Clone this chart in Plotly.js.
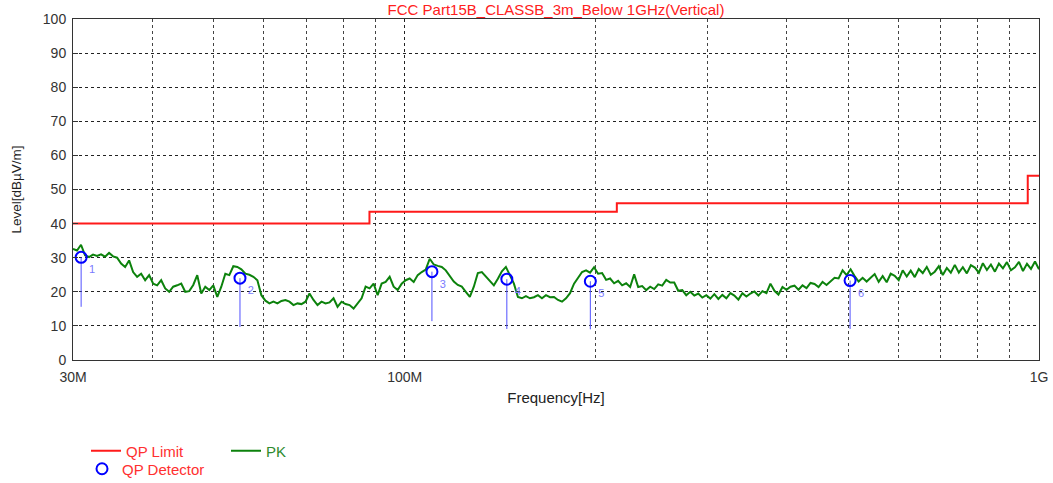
<!DOCTYPE html>
<html>
<head>
<meta charset="utf-8">
<script src="https://cdn.plot.ly/plotly-3.0.1.min.js"></script>
<style>
  html, body { margin: 0; padding: 0; background: #ffffff; }
  #chart { width: 1053px; height: 483px; }
</style>
</head>
<body>
<div id="chart"></div>
<script>
// QP limit line (FCC Part 15B class B, 3 m), frequencies in MHz
const limitFreq = [30, 88, 216, 960, 1000];
const limitLevel = [40, 43.5, 46, 54, 54];

// Peak sweep, 30 MHz .. 1 GHz, levels in dBuV/m
const pkStartMHz = 30;
const pkStopMHz = 1000;
const pkLevel = [
  32.6, 32.1, 33.8, 30.7, 30.2, 30.9, 30.5, 31.0, 30.3, 31.4,
  30.4, 30.0, 28.3, 27.3, 29.2, 25.8, 24.4, 25.3, 23.4, 24.9,
  22.4, 21.9, 23.4, 21.0, 20.0, 21.5, 21.9, 22.4, 20.0, 20.2,
  22.0, 24.9, 19.5, 21.5, 20.5, 21.9, 18.5, 21.5, 25.3, 24.9,
  27.5, 27.3, 26.6, 25.3, 25.0, 24.4, 23.4, 19.0, 17.4, 16.6,
  17.1, 16.6, 17.3, 17.6, 17.1, 16.1, 16.6, 16.4, 17.1, 19.5,
  17.6, 16.1, 17.1, 16.6, 16.9, 18.1, 15.6, 17.1, 16.4, 16.1,
  15.1, 16.6, 18.1, 21.5, 21.0, 22.4, 19.0, 22.4, 22.9, 24.4,
  21.5, 20.5, 22.4, 23.4, 23.9, 22.9, 24.9, 25.8, 26.5, 29.7,
  28.0, 27.6, 27.3, 26.3, 24.6, 23.0, 22.0, 21.5, 20.0, 18.5,
  21.5, 25.5, 25.8, 24.5, 23.4, 21.9, 23.8, 26.0, 27.3, 25.0,
  22.4, 18.5, 18.1, 18.7, 18.1, 18.4, 19.0, 18.1, 19.0, 18.4,
  18.5, 17.6, 17.1, 18.1, 19.6, 22.4, 24.0, 25.8, 26.3, 25.6,
  27.2, 25.3, 25.5, 23.5, 23.9, 22.5, 23.2, 21.9, 22.5, 21.4,
  25.1, 21.4, 21.7, 20.5, 21.5, 20.8, 22.2, 21.8, 23.5, 22.7,
  22.7, 20.3, 20.5, 19.0, 20.0, 18.9, 19.5, 18.3, 19.0, 18.0,
  19.3, 17.9, 19.1, 18.1, 19.6, 18.9, 17.7, 19.6, 18.6, 19.5,
  20.1, 18.9, 20.2, 19.6, 22.4, 20.3, 19.2, 21.4, 20.6, 21.5,
  21.8, 20.6, 21.9, 21.1, 22.6, 22.3, 21.4, 22.9, 22.0, 23.2,
  24.1, 23.9, 26.3, 24.9, 26.6, 24.6, 23.0, 24.1, 23.0, 24.1,
  25.2, 22.9, 24.6, 22.8, 25.3, 24.7, 23.4, 26.3, 24.5, 26.2,
  24.3, 26.7, 25.5, 27.3, 25.0, 25.9, 27.5, 24.9, 27.0, 25.6,
  27.9, 25.6, 27.2, 25.4, 27.8, 27.1, 25.6, 28.4, 26.4, 28.0,
  25.9, 28.3, 26.9, 28.7, 26.3, 27.2, 28.8, 26.1, 28.2, 26.7,
  28.9, 26.6
];

// Quasi-peak detector readings
const qpFreq = [30.9, 55.0, 110.4, 144.9, 196.2, 503.7];
const qpLevel = [30.1, 24.0, 25.9, 23.7, 23.1, 23.3];
const qpStemLow = [15.6, 9.7, 11.4, 9.1, 9.0, 9.1];
const qpLabel = ['1', '2', '3', '4', '5', '6'];

// Axis ticks
const xTickVals = [30, 100, 1000];
const xTickText = ['30M', '100M', '1G'];
const xMinorVals = [40, 50, 60, 70, 80, 90, 200, 300, 400, 500, 600, 700, 800, 900];
const yTickVals = [0, 10, 20, 30, 40, 50, 60, 70, 80, 90, 100];

// sweep frequency grid of the receiver (log-spaced points)
const pkFreq = pkLevel.map((_, i) =>
  pkStartMHz * Math.pow(pkStopMHz / pkStartMHz, i / (pkLevel.length - 1)));

const stemX = [], stemY = [];
qpFreq.forEach((f, i) => {
  stemX.push(f, f, null);
  stemY.push(qpLevel[i], qpStemLow[i], null);
});

const FONT = 'Liberation Sans, Arial, sans-serif';

const traces = [
  {
    x: limitFreq, y: limitLevel, type: 'scatter', mode: 'lines',
    line: { color: '#ff1a1a', width: 2, shape: 'hv' },
    name: '<span style="color:#ff3030">QP Limit</span>', legend: 'legend'
  },
  {
    x: pkFreq, y: pkLevel, type: 'scatter', mode: 'lines',
    line: { color: '#0c820c', width: 2 },
    name: '<span style="color:#2e8b2e">PK</span>', legend: 'legend'
  },
  {
    x: stemX, y: stemY, type: 'scatter', mode: 'lines',
    line: { color: '#5050ff', width: 1 },
    showlegend: false, hoverinfo: 'skip'
  },
  {
    x: qpFreq, y: qpLevel, type: 'scatter', mode: 'markers+text',
    marker: { symbol: 'circle-open', size: 11, color: '#0000ff', line: { width: 2, color: '#0000ff' } },
    text: qpLabel, textposition: 'bottom right',
    textfont: { family: FONT, size: 11, color: '#7a7aff' },
    name: '<span style="color:#ff3030">QP Detector</span>', legend: 'legend2'
  }
];

const layout = {
  width: 1053, height: 483,
  margin: { l: 73, r: 14, t: 19, b: 123 },
  paper_bgcolor: '#ffffff', plot_bgcolor: '#ffffff',
  font: { family: FONT, size: 14, color: '#333333' },
  title: {
    text: 'FCC Part15B_CLASSB_3m_Below 1GHz(Vertical)',
    font: { family: FONT, size: 15, color: '#ff2020' },
    x: 0.5, xref: 'paper', xanchor: 'center',
    y: 1 - 10 / 483, yref: 'container', yanchor: 'middle'
  },
  xaxis: {
    type: 'log',
    range: [Math.log10(30), Math.log10(1000)],
    tickmode: 'array', tickvals: xTickVals, ticktext: xTickText,
    ticks: '', ticklabelstandoff: 4,
    showgrid: true, gridcolor: '#222222', griddash: 'dot', gridwidth: 1,
    minor: { tickmode: 'array', tickvals: xMinorVals, showgrid: true, gridcolor: '#444444', griddash: 'dot', gridwidth: 1, ticks: '' },
    showline: true, linecolor: '#333333', linewidth: 1, mirror: true,
    zeroline: false,
    tickfont: { family: FONT, size: 14, color: '#333333' },
    title: { text: 'Frequency[Hz]', font: { family: FONT, size: 15, color: '#222222' }, standoff: 8 }
  },
  yaxis: {
    range: [0, 100],
    tickmode: 'array', tickvals: yTickVals,
    ticks: 'inside', ticklen: 5, tickcolor: '#333333', tickwidth: 1,
    ticklabelstandoff: 3,
    showgrid: true, gridcolor: '#222222', griddash: 'dot', gridwidth: 1,
    showline: true, linecolor: '#333333', linewidth: 1, mirror: true,
    zeroline: false,
    tickfont: { family: FONT, size: 14, color: '#333333' },
    title: { text: 'Level[dBµV/m]', font: { family: FONT, size: 13.5, color: '#222222' }, standoff: 18 }
  },
  legend: {
    orientation: 'h', xref: 'container', yref: 'container',
    x: 86 / 1053, xanchor: 'left', y: 1 - 451 / 483, yanchor: 'middle',
    entrywidth: 95, entrywidthmode: 'pixels',
    font: { family: FONT, size: 15 }, bgcolor: 'rgba(0,0,0,0)', borderwidth: 0
  },
  legend2: {
    orientation: 'h', xref: 'container', yref: 'container',
    x: 82 / 1053, xanchor: 'left', y: 1 - 469 / 483, yanchor: 'middle',
    font: { family: FONT, size: 15 }, bgcolor: 'rgba(0,0,0,0)', borderwidth: 0
  },
  showlegend: true
};

Plotly.newPlot('chart', traces, layout, { displayModeBar: false, staticPlot: true });
</script>
</body>
</html>
